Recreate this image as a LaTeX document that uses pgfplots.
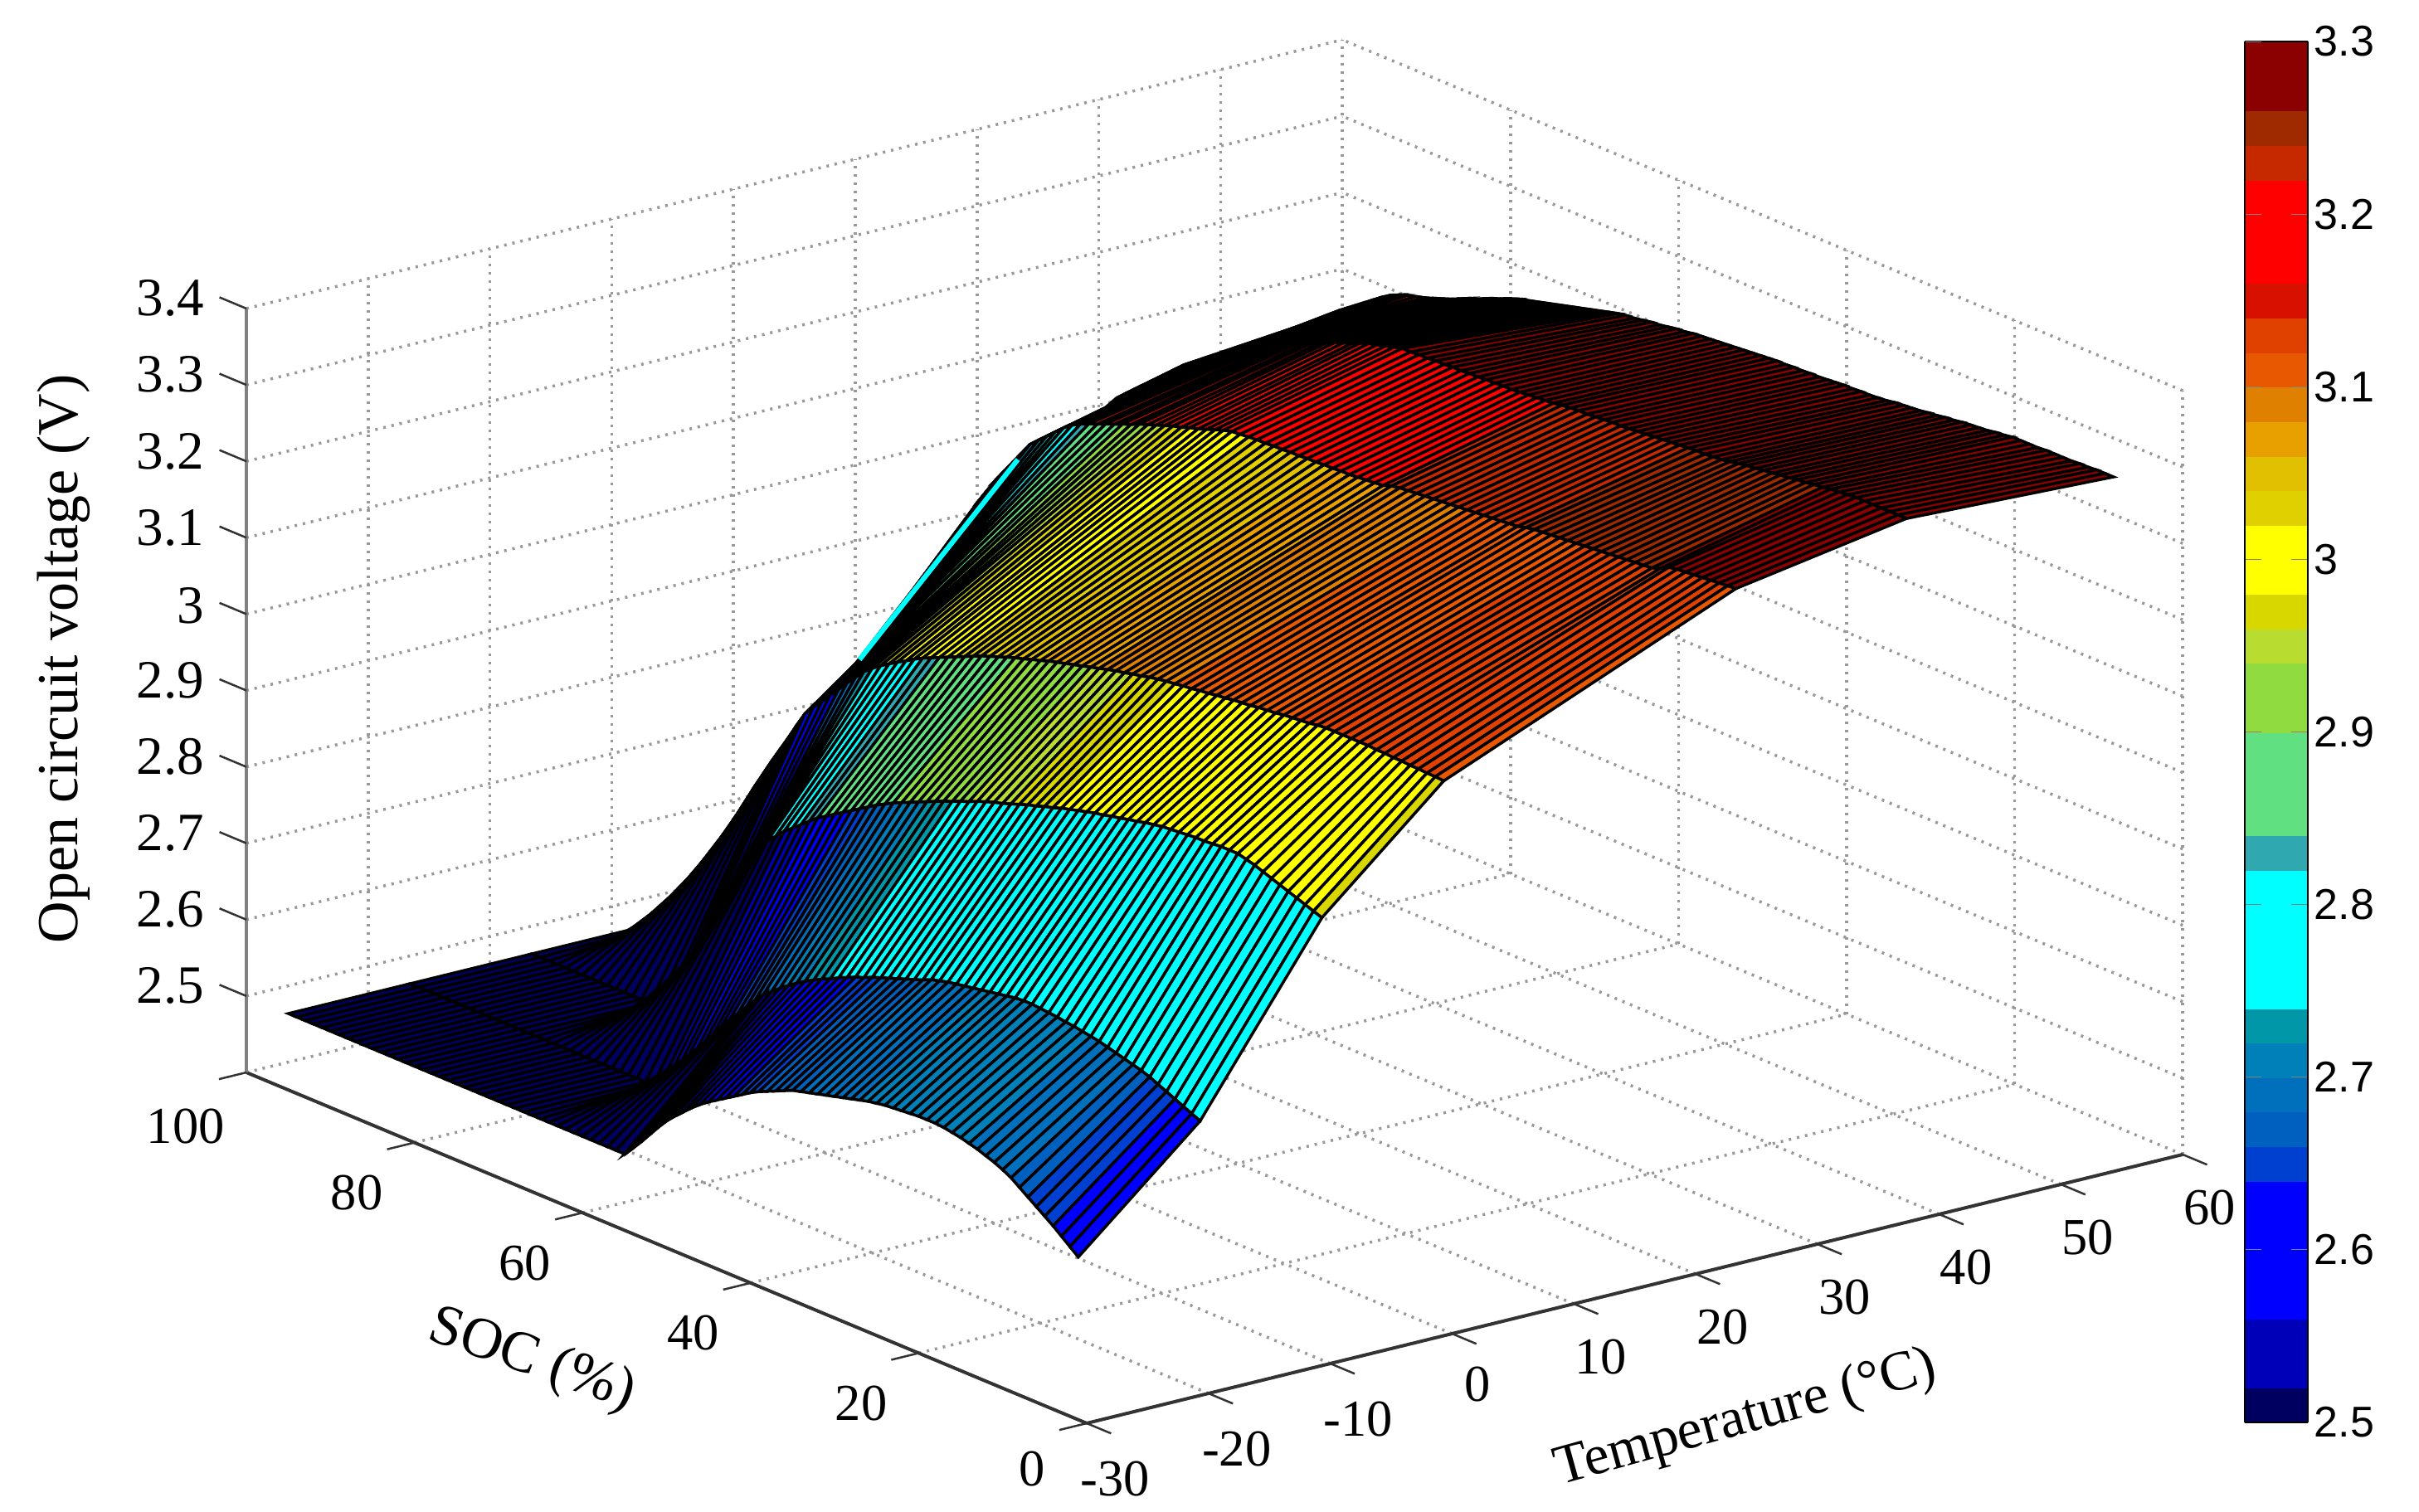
\documentclass[border=0pt]{standalone}
\usepackage{fontspec}
\setmainfont{Liberation Serif}
\newfontfamily\cbfont{Liberation Sans}
\usepackage{pgfplots}
\pgfplotsset{compat=1.18}
\definecolor{foldcyan}{RGB}{0,255,255}
\pgfplotsset{colormap={ocv}{
rgb255=(0,0,96) rgb255=(0,0,184) rgb255=(0,0,184) rgb255=(0,0,255) rgb255=(0,0,255)
rgb255=(0,0,255) rgb255=(0,0,255) rgb255=(0,64,208) rgb255=(0,96,192) rgb255=(0,112,188)
rgb255=(0,128,184) rgb255=(0,152,168) rgb255=(0,255,255) rgb255=(0,255,255) rgb255=(0,255,255)
rgb255=(0,255,255) rgb255=(48,168,176) rgb255=(96,224,128) rgb255=(96,224,128) rgb255=(96,224,128)
rgb255=(144,220,64) rgb255=(144,220,64) rgb255=(184,220,48) rgb255=(216,216,0) rgb255=(255,255,0)
rgb255=(255,255,0) rgb255=(224,208,0) rgb255=(224,192,0) rgb255=(232,160,0) rgb255=(224,128,0)
rgb255=(232,88,0) rgb255=(224,64,0) rgb255=(216,16,0) rgb255=(255,0,0) rgb255=(255,0,0)
rgb255=(255,0,0) rgb255=(198,40,0) rgb255=(160,42,0) rgb255=(139,0,0) rgb255=(139,0,0)
}}
\begin{document}
\begin{tikzpicture}
\begin{axis}[
  name=main,
  x={(2.936pt,0.72pt)},
  y={(-2.026pt,0.846pt)},
  z={(0pt,184.2pt)},
  xmin=-30,xmax=60,ymin=0,ymax=100,zmin=2.4,zmax=3.4,
  xtick={-30,-20,-10,0,10,20,30,40,50,60},
  ytick={0,20,40,60,80,100},
  ztick={2.5,2.6,2.7,2.8,2.9,3,3.1,3.2,3.3,3.4},
  grid=major,
  grid style={gray!80,line width=0.7pt,dash pattern=on 0.6pt off 1.4pt},
  axis line style={draw=none},
  tick pos=left,
  tick align=outside,
  tick style={draw=none},
  major tick length=4pt,
  x tick label style={font=\fontsize{12.5}{14}\selectfont,xshift=-3pt,yshift=-2.6pt},
  y tick label style={font=\fontsize{12.5}{14}\selectfont,xshift=-3pt,yshift=-2.2pt},
  z tick label style={font=\fontsize{13}{15}\selectfont,xshift=-3pt},
  /pgf/number format/assume math mode=true,
  xlabel={Temperature (°C)},
  ylabel={SOC (\%)},
  zlabel={Open circuit voltage (V)},
  every axis x label/.style={at={(axis cs:4.6,-28.3,2.4)},rotate=15.5,anchor=center,font=\fontsize{13.5}{15}\selectfont},
  every axis y label/.style={at={(axis cs:-51,35.6,2.4)},rotate=-19,anchor=center,font=\fontsize{14}{15}\selectfont},
  every axis z label/.style={at={(axis cs:-45,100,3.0)},rotate=90,anchor=center,font=\fontsize{14}{15}\selectfont},
  colormap name=ocv,
  colormap access=piecewise constant,
  point meta min=2.5,point meta max=3.3,
  clip=false,
]
\addplot3[black!80,line width=0.8pt] coordinates {(-30,0,2.4)(60,0,2.4)};
\addplot3[black!80,line width=0.8pt] coordinates {(-30,0,2.4)(-30,100,2.4)};
\addplot3[black!50,line width=0.8pt] coordinates {(-30,100,2.4)(-30,100,3.4)};
% tick marks, only on the three drawn axes
\addplot3[black!80,line width=0.5pt,empty line=jump] coordinates {
(-30,0,2.4)(-30,-2.9,2.4)

(-20,0,2.4)(-20,-2.9,2.4)

(-10,0,2.4)(-10,-2.9,2.4)

(0,0,2.4)(0,-2.9,2.4)

(10,0,2.4)(10,-2.9,2.4)

(20,0,2.4)(20,-2.9,2.4)

(30,0,2.4)(30,-2.9,2.4)

(40,0,2.4)(40,-2.9,2.4)

(50,0,2.4)(50,-2.9,2.4)

(60,0,2.4)(60,-2.9,2.4)

(-30,0,2.4)(-32.25,0,2.4)

(-30,20,2.4)(-32.25,20,2.4)

(-30,40,2.4)(-32.25,40,2.4)

(-30,60,2.4)(-32.25,60,2.4)

(-30,80,2.4)(-32.25,80,2.4)

(-30,100,2.4)(-32.25,100,2.4)

(-30,100,2.5)(-30,103.2,2.5)

(-30,100,2.6)(-30,103.2,2.6)

(-30,100,2.7)(-30,103.2,2.7)

(-30,100,2.8)(-30,103.2,2.8)

(-30,100,2.9)(-30,103.2,2.9)

(-30,100,3)(-30,103.2,3)

(-30,100,3.1)(-30,103.2,3.1)

(-30,100,3.2)(-30,103.2,3.2)

(-30,100,3.3)(-30,103.2,3.3)

(-30,100,3.4)(-30,103.2,3.4)
};
\addplot3[surf,shader=flat corner,draw=black,line width=0.7pt,z buffer=sort,
  mesh/ordering=y varies,mesh/cols=7,mesh/rows=95] table {
x y z
-30 1 2.613
-30 2 2.622
-30 3 2.631
-30 4 2.640
-30 5 2.648
-30 6 2.656
-30 7 2.664
-30 8 2.672
-30 9 2.680
-30 10 2.686
-30 11 2.691
-30 12 2.695
-30 13 2.699
-30 14 2.702
-30 15 2.705
-30 16 2.707
-30 17 2.709
-30 18 2.710
-30 19 2.710
-30 20 2.710
-30 21 2.709
-30 22 2.708
-30 23 2.707
-30 24 2.706
-30 25 2.704
-30 26 2.702
-30 27 2.699
-30 28 2.696
-30 29 2.693
-30 30 2.690
-30 31 2.687
-30 32 2.684
-30 33 2.681
-30 34 2.678
-30 35 2.675
-30 36 2.670
-30 37 2.665
-30 38 2.660
-30 39 2.655
-30 40 2.649
-30 41 2.642
-30 42 2.635
-30 43 2.628
-30 44 2.621
-30 45 2.614
-30 46 2.606
-30 47 2.597
-30 48 2.587
-30 49 2.577
-30 50 2.566
-30 51 2.553
-30 52 2.539
-30 53 2.525
-30 54 2.512
-30 55 2.500
-30 56 2.500
-30 57 2.500
-30 58 2.500
-30 59 2.500
-30 60 2.500
-30 61 2.500
-30 62 2.500
-30 63 2.500
-30 64 2.500
-30 65 2.500
-30 66 2.500
-30 67 2.500
-30 68 2.500
-30 69 2.500
-30 70 2.500
-30 71 2.500
-30 72 2.500
-30 73 2.500
-30 74 2.500
-30 75 2.500
-30 76 2.500
-30 77 2.500
-30 78 2.500
-30 79 2.500
-30 80 2.500
-30 81 2.500
-30 82 2.500
-30 83 2.500
-30 84 2.500
-30 85 2.500
-30 86 2.500
-30 87 2.500
-30 88 2.500
-30 89 2.500
-30 90 2.500
-30 91 2.500
-30 92 2.500
-30 93 2.500
-30 94 2.500
-30 95 2.500
-20 1 2.752
-20 2 2.757
-20 3 2.762
-20 4 2.767
-20 5 2.772
-20 6 2.777
-20 7 2.782
-20 8 2.786
-20 9 2.789
-20 10 2.792
-20 11 2.795
-20 12 2.798
-20 13 2.801
-20 14 2.803
-20 15 2.805
-20 16 2.807
-20 17 2.808
-20 18 2.810
-20 19 2.811
-20 20 2.812
-20 21 2.813
-20 22 2.813
-20 23 2.812
-20 24 2.810
-20 25 2.808
-20 26 2.806
-20 27 2.804
-20 28 2.802
-20 29 2.800
-20 30 2.798
-20 31 2.796
-20 32 2.793
-20 33 2.790
-20 34 2.785
-20 35 2.781
-20 36 2.777
-20 37 2.773
-20 38 2.769
-20 39 2.765
-20 40 2.761
-20 41 2.756
-20 42 2.752
-20 43 2.747
-20 44 2.742
-20 45 2.736
-20 46 2.731
-20 47 2.725
-20 48 2.719
-20 49 2.712
-20 50 2.704
-20 51 2.696
-20 52 2.687
-20 53 2.678
-20 54 2.666
-20 55 2.653
-20 56 2.640
-20 57 2.627
-20 58 2.613
-20 59 2.598
-20 60 2.583
-20 61 2.568
-20 62 2.554
-20 63 2.539
-20 64 2.525
-20 65 2.510
-20 66 2.503
-20 67 2.500
-20 68 2.500
-20 69 2.500
-20 70 2.500
-20 71 2.500
-20 72 2.500
-20 73 2.500
-20 74 2.500
-20 75 2.500
-20 76 2.500
-20 77 2.500
-20 78 2.500
-20 79 2.500
-20 80 2.500
-20 81 2.500
-20 82 2.500
-20 83 2.500
-20 84 2.500
-20 85 2.500
-20 86 2.500
-20 87 2.500
-20 88 2.500
-20 89 2.500
-20 90 2.500
-20 91 2.500
-20 92 2.500
-20 93 2.500
-20 94 2.500
-20 95 2.500
-10 1 2.979
-10 2 2.983
-10 3 2.987
-10 4 2.991
-10 5 2.995
-10 6 2.999
-10 7 3.003
-10 8 3.007
-10 9 3.011
-10 10 3.014
-10 11 3.017
-10 12 3.017
-10 13 3.017
-10 14 3.016
-10 15 3.015
-10 16 3.015
-10 17 3.014
-10 18 3.013
-10 19 3.012
-10 20 3.011
-10 21 3.009
-10 22 3.007
-10 23 3.004
-10 24 3.002
-10 25 2.999
-10 26 2.997
-10 27 2.994
-10 28 2.992
-10 29 2.989
-10 30 2.986
-10 31 2.983
-10 32 2.980
-10 33 2.976
-10 34 2.973
-10 35 2.969
-10 36 2.966
-10 37 2.962
-10 38 2.958
-10 39 2.954
-10 40 2.951
-10 41 2.947
-10 42 2.943
-10 43 2.938
-10 44 2.934
-10 45 2.929
-10 46 2.925
-10 47 2.920
-10 48 2.915
-10 49 2.910
-10 50 2.905
-10 51 2.900
-10 52 2.895
-10 53 2.889
-10 54 2.883
-10 55 2.876
-10 56 2.869
-10 57 2.862
-10 58 2.855
-10 59 2.848
-10 60 2.841
-10 61 2.834
-10 62 2.825
-10 63 2.816
-10 64 2.807
-10 65 2.798
-10 66 2.787
-10 67 2.776
-10 68 2.759
-10 69 2.738
-10 70 2.712
-10 71 2.686
-10 72 2.661
-10 73 2.636
-10 74 2.613
-10 75 2.591
-10 76 2.569
-10 77 2.548
-10 78 2.530
-10 79 2.513
-10 80 2.505
-10 81 2.500
-10 82 2.500
-10 83 2.500
-10 84 2.500
-10 85 2.500
-10 86 2.500
-10 87 2.500
-10 88 2.500
-10 89 2.500
-10 90 2.500
-10 91 2.500
-10 92 2.500
-10 93 2.500
-10 94 2.500
-10 95 2.500
0 1 3.119
0 2 3.120
0 3 3.120
0 4 3.121
0 5 3.121
0 6 3.122
0 7 3.122
0 8 3.123
0 9 3.123
0 10 3.124
0 11 3.124
0 12 3.124
0 13 3.124
0 14 3.124
0 15 3.124
0 16 3.123
0 17 3.121
0 18 3.120
0 19 3.119
0 20 3.118
0 21 3.116
0 22 3.115
0 23 3.114
0 24 3.112
0 25 3.111
0 26 3.110
0 27 3.108
0 28 3.107
0 29 3.105
0 30 3.104
0 31 3.102
0 32 3.101
0 33 3.099
0 34 3.098
0 35 3.096
0 36 3.094
0 37 3.091
0 38 3.089
0 39 3.086
0 40 3.084
0 41 3.081
0 42 3.078
0 43 3.075
0 44 3.072
0 45 3.069
0 46 3.066
0 47 3.063
0 48 3.060
0 49 3.056
0 50 3.053
0 51 3.049
0 52 3.046
0 53 3.042
0 54 3.038
0 55 3.034
0 56 3.030
0 57 3.025
0 58 3.020
0 59 3.015
0 60 3.010
0 61 3.005
0 62 3.000
0 63 2.995
0 64 2.989
0 65 2.982
0 66 2.976
0 67 2.969
0 68 2.962
0 69 2.954
0 70 2.945
0 71 2.933
0 72 2.921
0 73 2.908
0 74 2.896
0 75 2.883
0 76 2.871
0 77 2.858
0 78 2.838
0 79 2.817
0 80 2.797
0 81 2.777
0 82 2.756
0 83 2.735
0 84 2.713
0 85 2.691
0 86 2.669
0 87 2.647
0 88 2.625
0 89 2.603
0 90 2.580
0 91 2.557
0 92 2.535
0 93 2.512
0 94 2.504
0 95 2.500
24 1 3.277
24 2 3.276
24 3 3.275
24 4 3.274
24 5 3.273
24 6 3.272
24 7 3.271
24 8 3.270
24 9 3.268
24 10 3.262
24 11 3.258
24 12 3.257
24 13 3.256
24 14 3.255
24 15 3.254
24 16 3.253
24 17 3.252
24 18 3.251
24 19 3.250
24 20 3.249
24 21 3.248
24 22 3.247
24 23 3.246
24 24 3.245
24 25 3.244
24 26 3.242
24 27 3.239
24 28 3.238
24 29 3.237
24 30 3.236
24 31 3.235
24 32 3.234
24 33 3.233
24 34 3.232
24 35 3.231
24 36 3.230
24 37 3.229
24 38 3.228
24 39 3.227
24 40 3.226
24 41 3.225
24 42 3.223
24 43 3.219
24 44 3.218
24 45 3.217
24 46 3.216
24 47 3.215
24 48 3.215
24 49 3.214
24 50 3.214
24 51 3.213
24 52 3.213
24 53 3.212
24 54 3.212
24 55 3.211
24 56 3.211
24 57 3.210
24 58 3.210
24 59 3.209
24 60 3.208
24 61 3.207
24 62 3.204
24 63 3.200
24 64 3.196
24 65 3.192
24 66 3.189
24 67 3.185
24 68 3.182
24 69 3.178
24 70 3.174
24 71 3.170
24 72 3.166
24 73 3.161
24 74 3.157
24 75 3.152
24 76 3.148
24 77 3.143
24 78 3.139
24 79 3.134
24 80 3.128
24 81 3.120
24 82 3.110
24 83 3.100
24 84 3.090
24 85 3.080
24 86 3.064
24 87 3.048
24 88 3.032
24 89 3.016
24 90 2.998
24 91 2.980
24 92 2.960
24 93 2.940
24 94 2.920
24 95 2.900
38 1 3.314
38 2 3.314
38 3 3.314
38 4 3.314
38 5 3.314
38 6 3.314
38 7 3.314
38 8 3.313
38 9 3.312
38 10 3.311
38 11 3.309
38 12 3.308
38 13 3.306
38 14 3.305
38 15 3.303
38 16 3.302
38 17 3.300
38 18 3.299
38 19 3.297
38 20 3.296
38 21 3.294
38 22 3.292
38 23 3.290
38 24 3.289
38 25 3.288
38 26 3.288
38 27 3.287
38 28 3.286
38 29 3.285
38 30 3.284
38 31 3.283
38 32 3.282
38 33 3.281
38 34 3.280
38 35 3.279
38 36 3.279
38 37 3.278
38 38 3.277
38 39 3.276
38 40 3.276
38 41 3.275
38 42 3.274
38 43 3.272
38 44 3.271
38 45 3.270
38 46 3.269
38 47 3.268
38 48 3.267
38 49 3.267
38 50 3.266
38 51 3.266
38 52 3.265
38 53 3.265
38 54 3.264
38 55 3.264
38 56 3.263
38 57 3.263
38 58 3.262
38 59 3.262
38 60 3.261
38 61 3.261
38 62 3.258
38 63 3.255
38 64 3.252
38 65 3.249
38 66 3.245
38 67 3.240
38 68 3.236
38 69 3.232
38 70 3.227
38 71 3.221
38 72 3.216
38 73 3.210
38 74 3.205
38 75 3.199
38 76 3.193
38 77 3.187
38 78 3.182
38 79 3.176
38 80 3.170
38 81 3.163
38 82 3.156
38 83 3.149
38 84 3.142
38 85 3.134
38 86 3.127
38 87 3.120
38 88 3.110
38 89 3.100
38 90 3.090
38 91 3.080
38 92 3.070
38 93 3.060
38 94 3.050
38 95 3.040
55 1 3.302
55 2 3.302
55 3 3.302
55 4 3.301
55 5 3.301
55 6 3.300
55 7 3.300
55 8 3.300
55 9 3.300
55 10 3.299
55 11 3.299
55 12 3.299
55 13 3.299
55 14 3.297
55 15 3.296
55 16 3.294
55 17 3.293
55 18 3.292
55 19 3.291
55 20 3.289
55 21 3.288
55 22 3.286
55 23 3.285
55 24 3.283
55 25 3.282
55 26 3.281
55 27 3.280
55 28 3.278
55 29 3.277
55 30 3.276
55 31 3.276
55 32 3.275
55 33 3.275
55 34 3.274
55 35 3.273
55 36 3.272
55 37 3.272
55 38 3.271
55 39 3.271
55 40 3.270
55 41 3.270
55 42 3.269
55 43 3.268
55 44 3.267
55 45 3.266
55 46 3.265
55 47 3.264
55 48 3.263
55 49 3.262
55 50 3.261
55 51 3.260
55 52 3.258
55 53 3.257
55 54 3.255
55 55 3.253
55 56 3.252
55 57 3.250
55 58 3.248
55 59 3.247
55 60 3.245
55 61 3.242
55 62 3.239
55 63 3.236
55 64 3.233
55 65 3.230
55 66 3.227
55 67 3.224
55 68 3.221
55 69 3.218
55 70 3.215
55 71 3.212
55 72 3.209
55 73 3.205
55 74 3.200
55 75 3.196
55 76 3.191
55 77 3.186
55 78 3.182
55 79 3.177
55 80 3.172
55 81 3.168
55 82 3.164
55 83 3.160
55 84 3.157
55 85 3.154
55 86 3.150
55 87 3.145
55 88 3.138
55 89 3.130
55 90 3.122
55 91 3.114
55 92 3.106
55 93 3.098
55 94 3.089
55 95 3.080
};
% bright cyan streak along the fold
\addplot3[foldcyan,line width=1.2pt] coordinates {(10,85,2.853)(23,85,3.064)};
\end{axis}
% colour scale on the right
\begin{axis}[
  at={(main.south west)},anchor=south west,xshift=481.8pt,yshift=0.2pt,
  scale only axis,width=15.2pt,height=333pt,
  view={0}{90},
  xmin=0,xmax=1,ymin=2.5,ymax=3.3,
  xtick=\empty,
  ytick={2.5,2.6,2.7,2.8,2.9,3,3.1,3.2,3.3},
  yticklabel pos=right,
  axis on top,
  tick align=inside,
  major tick length=4pt,
  tick label style={font=\cbfont\fontsize{10.4}{12}\selectfont,xshift=-2pt},
  /pgf/number format/assume math mode=true,
  colormap name=ocv,
  colormap access=piecewise constant,
  point meta min=2.5,point meta max=3.3,
]
\addplot3[surf,shader=flat corner,mesh/ordering=x varies,mesh/cols=2,mesh/rows=41,z buffer=none] table {
x y z
0 2.50 2.51
1 2.50 2.51
0 2.52 2.53
1 2.52 2.53
0 2.54 2.55
1 2.54 2.55
0 2.56 2.57
1 2.56 2.57
0 2.58 2.59
1 2.58 2.59
0 2.60 2.61
1 2.60 2.61
0 2.62 2.63
1 2.62 2.63
0 2.64 2.65
1 2.64 2.65
0 2.66 2.67
1 2.66 2.67
0 2.68 2.69
1 2.68 2.69
0 2.70 2.71
1 2.70 2.71
0 2.72 2.73
1 2.72 2.73
0 2.74 2.75
1 2.74 2.75
0 2.76 2.77
1 2.76 2.77
0 2.78 2.79
1 2.78 2.79
0 2.80 2.81
1 2.80 2.81
0 2.82 2.83
1 2.82 2.83
0 2.84 2.85
1 2.84 2.85
0 2.86 2.87
1 2.86 2.87
0 2.88 2.89
1 2.88 2.89
0 2.90 2.91
1 2.90 2.91
0 2.92 2.93
1 2.92 2.93
0 2.94 2.95
1 2.94 2.95
0 2.96 2.97
1 2.96 2.97
0 2.98 2.99
1 2.98 2.99
0 3.00 3.01
1 3.00 3.01
0 3.02 3.03
1 3.02 3.03
0 3.04 3.05
1 3.04 3.05
0 3.06 3.07
1 3.06 3.07
0 3.08 3.09
1 3.08 3.09
0 3.10 3.11
1 3.10 3.11
0 3.12 3.13
1 3.12 3.13
0 3.14 3.15
1 3.14 3.15
0 3.16 3.17
1 3.16 3.17
0 3.18 3.19
1 3.18 3.19
0 3.20 3.21
1 3.20 3.21
0 3.22 3.23
1 3.22 3.23
0 3.24 3.25
1 3.24 3.25
0 3.26 3.27
1 3.26 3.27
0 3.28 3.29
1 3.28 3.29
0 3.30 3.29
1 3.30 3.29
};
\end{axis}
\pgfresetboundingbox
\useasboundingbox ([shift={(-59.4pt,-21.2pt)}]main.south west) rectangle ([shift={(523.8pt,343.2pt)}]main.south west);
\end{tikzpicture}
\end{document}
